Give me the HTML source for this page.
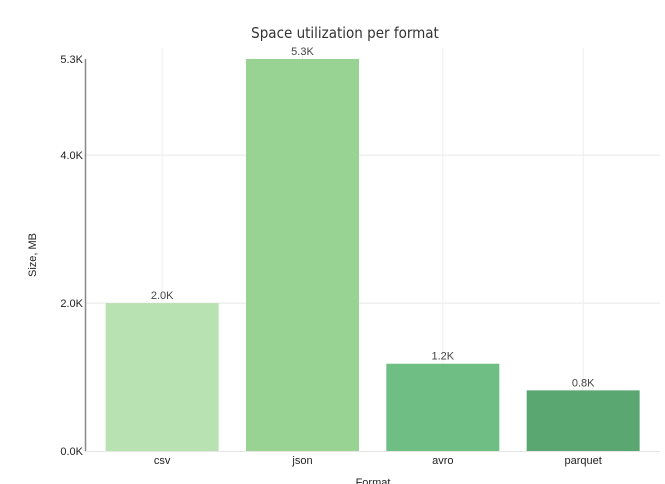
<!DOCTYPE html>
<html><head><meta charset="utf-8"><style>
html,body{margin:0;padding:0;background:#fff;}
svg{display:block;font-family:"Liberation Sans",sans-serif;}
</style></head><body>
<svg id="chart" width="665" height="484">
<text x="345" y="38" text-anchor="middle" font-size="15" fill="#333" style="font-family:'DejaVu Sans Condensed','Liberation Sans Narrow',sans-serif;font-weight:300">Space utilization per format</text>
<text transform="translate(36,255) rotate(-90)" text-anchor="middle" font-size="11" fill="#222">Size, MB</text>
<text x="373" y="486" text-anchor="middle" font-size="11" fill="#222">Format</text>
<g id="grid"></g><g id="bars"></g><g id="axes"></g>
</svg>
<script>
const categories = ["csv","json","avro","parquet"];
const values = [2000, 5300, 1180, 820];
const valueLabels = ["2.0K","5.3K","1.2K","0.8K"];
const tickValues = [0, 2000, 4000, 5300];
const tickLabels = ["0.0K","2.0K","4.0K","5.3K"];
const colors = ["#b8e2b1","#98d393","#6fbf85","#5aa772"];
const NS="http://www.w3.org/2000/svg";
const x0=85, x1=660, yBase=451, yTop=59, maxV=5300;
const y=v=>yBase-(v/maxV)*(yBase-yTop);
const bandStart=92, band=140.33;
const xc=i=>bandStart+band*(i+0.5);
function mk(tag,attrs,parent){const e=document.createElementNS(NS,tag);for(const k in attrs)e.setAttribute(k,attrs[k]);parent.appendChild(e);return e;}
const grid=document.getElementById('grid'),bars=document.getElementById('bars'),axes=document.getElementById('axes');
tickValues.forEach((v,i)=>{
  if(v>0&&v<maxV){const l=mk('line',{x1:x0,x2:x1,y1:y(v),y2:y(v),stroke:'#e6e6e6','stroke-width':1},grid);
  
  }
  const t=mk('text',{x:x0-2,y:y(v)+4,'text-anchor':'end','font-size':11,fill:'#222'},axes);
  t.textContent=tickLabels[i];
  
  
});
const base=mk('line',{x1:x0,x2:x1,y1:yBase+0.5,y2:yBase+0.5,stroke:'#e6e6e6','stroke-width':1},grid);


categories.forEach((c,i)=>{
  const g=mk('line',{x1:xc(i),x2:xc(i),y1:48,y2:yBase,stroke:'#eeeeee','stroke-width':1},grid);
  
  
  const w=113;
  const r=mk('rect',{x:xc(i)-w/2,y:y(values[i]),width:w,height:yBase-y(values[i]),fill:colors[i]},bars);
  
  
  const vl=mk('text',{x:xc(i),y:y(values[i])-4,'text-anchor':'middle','font-size':11,fill:'#444'},bars);
  vl.textContent=valueLabels[i];
  
  
  const xl=mk('text',{x:xc(i),y:464,'text-anchor':'middle','font-size':11,fill:'#222'},axes);
  xl.textContent=c;
  
  
});
const ax=mk('line',{x1:x0+0.5,x2:x0+0.5,y1:yTop,y2:yBase,stroke:'#888','stroke-width':1.5},axes);


</script>
</body></html>
